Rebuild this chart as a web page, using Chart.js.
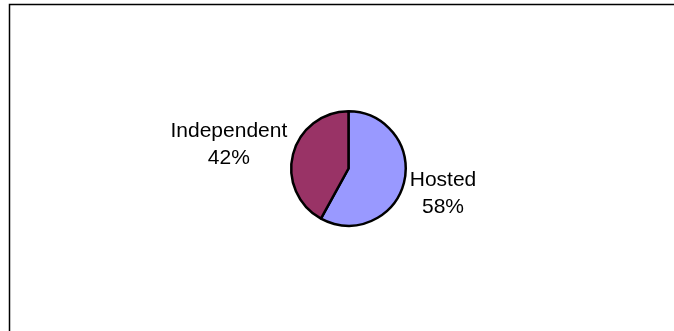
<!DOCTYPE html>
<html>
<head>
<meta charset="utf-8">
<script src="https://cdn.jsdelivr.net/npm/chart.js@4/dist/chart.umd.min.js"></script>
<style>
  html, body { margin: 0; padding: 0; background: #fff; }
  #wrap { width: 674px; height: 331px; position: relative; }
</style>
</head>
<body>
<div id="wrap"><canvas id="myPie" width="674" height="331"></canvas></div>
<script>
var categories = ['Hosted', 'Independent'];
var shares = [58, 42];
var sliceColors = ['#9999FF', '#993366'];

// outer frame (only top and left edges show in the picture)
var framePlugin = {
    id: 'frame',
    beforeDraw: function (chart) {
        var ctx = chart.ctx;
        ctx.save();
        ctx.fillStyle = '#fff';
        ctx.fillRect(0, 0, chart.width, chart.height);
        ctx.strokeStyle = '#000';
        ctx.lineWidth = 1.5;
        ctx.beginPath();
        ctx.moveTo(9.5, chart.height);
        ctx.lineTo(9.5, 4.5);
        ctx.lineTo(chart.width, 4.5);
        ctx.stroke();
        ctx.restore();
    }
};

// category + percent labels next to each slice
var labelPlugin = {
    id: 'sliceLabels',
    afterDatasetsDraw: function (chart) {
        var ctx = chart.ctx;
        var meta = chart.getDatasetMeta(0);
        ctx.save();
        ctx.font = '21px "Liberation Sans", Arial, sans-serif';
        ctx.fillStyle = '#000';
        ctx.textBaseline = 'middle';
        meta.data.forEach(function (arc, i) {
            var p = arc.getProps(['x', 'y', 'startAngle', 'endAngle', 'outerRadius'], true);
            var mid = (p.startAngle + p.endAngle) / 2;
            var c = Math.cos(mid), s = Math.sin(mid);
            var lines = [categories[i], shares[i] + '%'];
            var w = Math.max(ctx.measureText(lines[0]).width, ctx.measureText(lines[1]).width);
            var cx = c >= 0 ? p.x + p.outerRadius + 4 + w / 2 : p.x - p.outerRadius - 4 - w / 2;
            var cy = p.y + s * p.outerRadius * 1.7;
            ctx.textAlign = 'center';
            ctx.fillText(lines[0], cx, cy - 13);
            ctx.fillText(lines[1], cx, cy + 14);
        });
        ctx.restore();
    }
};

new Chart('myPie', {
    type: 'pie',
    data: {
        labels: categories,
        datasets: [{
            data: shares,
            backgroundColor: sliceColors,
            borderColor: '#000',
            borderWidth: 2.5
        }]
    },
    options: {
        responsive: false,
        animation: false,
        layout: { padding: { left: 290, right: 267, top: 110, bottom: 104 } },
        plugins: {
            legend: { display: false },
            tooltip: { enabled: false }
        }
    },
    plugins: [framePlugin, labelPlugin]
});
</script>
</body>
</html>
